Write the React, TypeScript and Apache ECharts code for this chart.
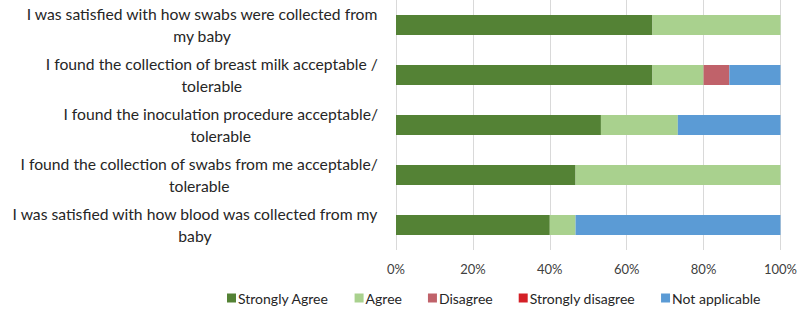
import React, { useEffect, useRef } from "react";
import * as echarts from "echarts";

const categories: string[][] = [
  ["I was satisfied with how swabs were collected from", "my baby"],
  ["I found the collection of breast milk acceptable /", "tolerable"],
  ["I found the inoculation procedure acceptable/", "tolerable"],
  ["I found the collection of swabs from me acceptable/", "tolerable"],
  ["I was satisfied with how blood was collected from my", "baby"],
];

const seriesNames = ["Strongly Agree", "Agree", "Disagree", "Strongly disagree", "Not applicable"];
const stronglyAgree = [66.7, 66.7, 53.3, 46.7, 40.0];
const agree = [33.3, 13.3, 20.0, 53.3, 6.7];
const disagree = [0, 6.7, 0, 0, 0];
const stronglyDisagree = [0, 0, 0, 0, 0];
const notApplicable = [0, 13.3, 26.7, 0, 53.3];
const xTicks = [0, 20, 40, 60, 80, 100];

const colors = ["#548235", "#A9D18E", "#C0626A", "#D42027", "#5B9BD5"];
const FONT = "Lato, 'Open Sans', sans-serif";

export default function App() {
  const ref = useRef<HTMLDivElement>(null);
  useEffect(() => {
    if (!ref.current) return;
    const chart = echarts.init(ref.current, undefined, { renderer: "svg" });
    const seriesData = [stronglyAgree, agree, disagree, stronglyDisagree, notApplicable];
    const catKeys = categories.map((c) => c.join("\n"));
    chart.setOption({
      animation: false,
      textStyle: { fontFamily: FONT },
      grid: { left: 396, right: 15, top: 0, bottom: 59, containLabel: false },
      legend: {
        top: 286,
        left: 222,
        itemWidth: 9,
        itemHeight: 9,
        itemGap: 26,
        icon: "rect",
        textStyle: { fontSize: 14, color: "#262626", fontFamily: FONT, padding: [0, 0, 0, -3] },
        data: seriesNames,
      },
      xAxis: {
        type: "value",
        min: xTicks[0],
        max: xTicks[xTicks.length - 1],
        interval: 20,
        axisLine: { show: false },
        axisTick: { show: false },
        splitLine: { show: true, lineStyle: { color: "#D9D9D9", width: 1 } },
        axisLabel: {
          formatter: (v: number) => `${v}%`,
          fontSize: 13,
          color: "#404040",
          margin: 12,
          fontFamily: FONT,
        },
      },
      yAxis: {
        type: "category",
        inverse: true,
        data: catKeys,
        axisLine: { show: false },
        axisTick: { show: false },
        axisLabel: {
          margin: 18,
          fontSize: 15.7,
          color: "#262626",
          fontFamily: FONT,
          formatter: (v: string) =>
            v
              .split("\n")
              .map((l) => `{c|${l}}`)
              .join("\n"),
          rich: {
            c: { align: "center", fontSize: 15.7, lineHeight: 22, color: "#262626", fontFamily: FONT },
          },
        },
      },
      series: seriesNames.map((name, i) => ({
        name,
        type: "bar",
        stack: "total",
        barWidth: 20,
        itemStyle: { color: colors[i] },
        data: seriesData[i],
      })),
    });
    return () => chart.dispose();
  }, []);
  return <div ref={ref} style={{ width: 800, height: 309, position: "absolute", left: 0, top: 0 }} />;
}
